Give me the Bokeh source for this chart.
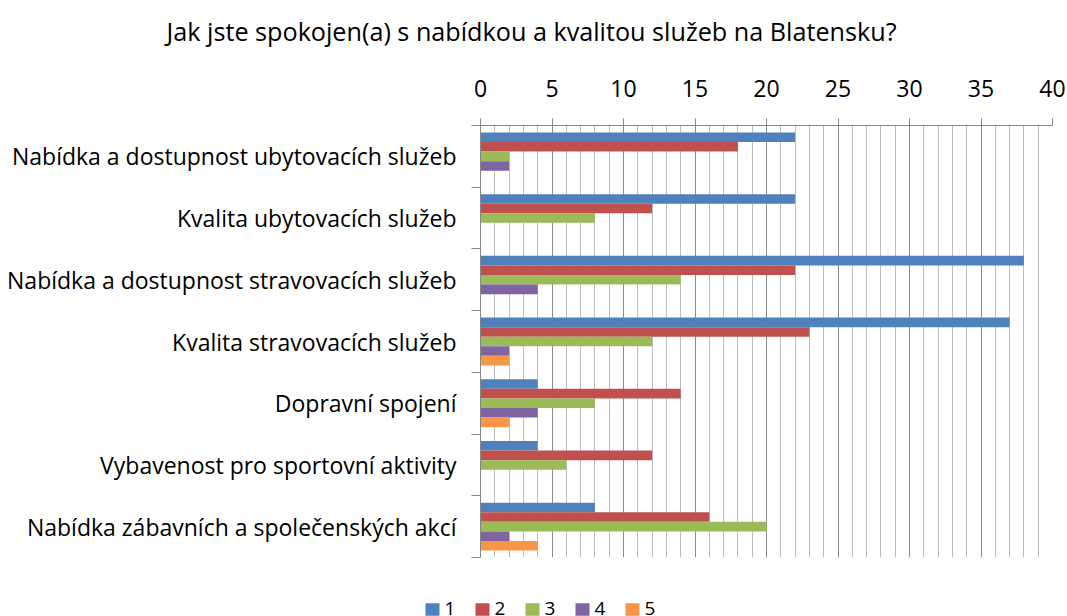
from bokeh.plotting import figure
from bokeh.layouts import column, row
from bokeh.models import (ColumnDataSource, Range1d, FixedTicker, SingleIntervalTicker)
from bokeh.core.properties import value
from bokeh.embed import file_html
from bokeh.resources import INLINE

title_text = "Jak jste spokojen(a) s nabídkou a kvalitou služeb na Blatensku?"
categories = [
    "Nabídka a dostupnost ubytovacích služeb",
    "Kvalita ubytovacích služeb",
    "Nabídka a dostupnost stravovacích služeb",
    "Kvalita stravovacích služeb",
    "Dopravní spojení",
    "Vybavenost pro sportovní aktivity",
    "Nabídka zábavních a společenských akcí",
]
series_names = ["1", "2", "3", "4", "5"]
s1 = [22, 22, 38, 37, 4, 4, 8]
s2 = [18, 12, 22, 23, 14, 12, 16]
s3 = [2, 8, 14, 12, 8, 6, 20]
s4 = [2, 0, 4, 2, 4, 0, 2]
s5 = [0, 0, 0, 2, 2, 0, 4]
series = [s1, s2, s3, s4, s5]
colors = ["#4F81BD", "#C0504D", "#9BBB59", "#8064A2", "#F79646"]

FONT = "Open Sans"
FS = "23px"
n = len(categories)


def strip(h):
    f = figure(width=1067, height=h, output_backend="svg", toolbar_location=None,
               x_range=Range1d(0, 1067), y_range=Range1d(h, 0),
               min_border=0, min_border_left=0, min_border_right=0,
               min_border_top=0, min_border_bottom=0)
    f.axis.visible = False
    f.grid.visible = False
    f.outline_line_color = None
    return f


# title strip
tg = strip(55)
tg.text(x=[166], y=[30], text=[title_text], text_font=value(FONT), text_font_size="25.2px",
        text_baseline="middle", text_align="left", text_color="#000000")

# main chart
p = figure(width=1067, height=541, output_backend="svg", toolbar_location=None,
           x_range=Range1d(0, 40), y_range=Range1d(n - 0.5, -0.5),
           x_axis_location="above",
           min_border_left=480, min_border_right=15, min_border_top=70, min_border_bottom=39)
p.outline_line_color = None
p.background_fill_color = "white"
p.border_fill_color = "white"

bh = 0.155
renderers = []
for k, (vals, col) in enumerate(zip(series, colors)):
    ys = [i + (k - 2) * bh for i in range(n)]
    src = ColumnDataSource(dict(y=ys, right=vals))
    r = p.hbar(y="y", left=0, right="right", height=bh, source=src,
               fill_color=col, line_color=None)
    renderers.append(r)

# x axis (top)
xa = p.xaxis[0]
xa.ticker = SingleIntervalTicker(interval=5, num_minor_ticks=5)
xa.axis_line_color = "#868686"
xa.major_tick_line_color = "#868686"
xa.major_tick_out = 7
xa.major_tick_in = 0
xa.minor_tick_line_color = None
xa.major_label_text_font = FONT
xa.major_label_text_font_size = FS
xa.major_label_text_color = "#000000"
xa.major_label_standoff = 22

# y axis (left)
ya = p.yaxis[0]
ya.ticker = FixedTicker(ticks=list(range(n)), minor_ticks=[i - 0.5 for i in range(n + 1)])
ya.major_label_overrides = {i: c for i, c in enumerate(categories)}
ya.axis_line_color = "#868686"
ya.major_tick_line_color = None
ya.major_tick_out = 0
ya.minor_tick_line_color = "#868686"
ya.minor_tick_out = 9
ya.minor_tick_in = 0
ya.major_label_text_font = FONT
ya.major_label_text_font_size = FS
ya.major_label_text_color = "#000000"
ya.major_label_standoff = 15

# grids
p.ygrid.grid_line_color = None
p.xgrid.ticker = SingleIntervalTicker(interval=5, num_minor_ticks=5)
p.xgrid.grid_line_color = "#8C8C8C"
p.xgrid.grid_line_width = 1
p.xgrid.minor_grid_line_color = "#BDBDBD"
p.xgrid.minor_grid_line_width = 1

# legend strip below the chart
lg = strip(20)
leg_x = [425 + 50 * k for k in range(len(series_names))]
lg.rect(x=[x + 7 for x in leg_x], y=[13] * len(leg_x), width=14, height=12.6,
        fill_color=colors, line_color=None)
lg.text(x=[x + 19 for x in leg_x], y=[12] * len(leg_x), text=series_names,
        text_font=value(FONT), text_font_size="19px", text_baseline="middle",
        text_align="left", text_color="#000000")

open("out.html", "w").write(file_html(column(row(tg), p, row(lg), spacing=0), INLINE))
